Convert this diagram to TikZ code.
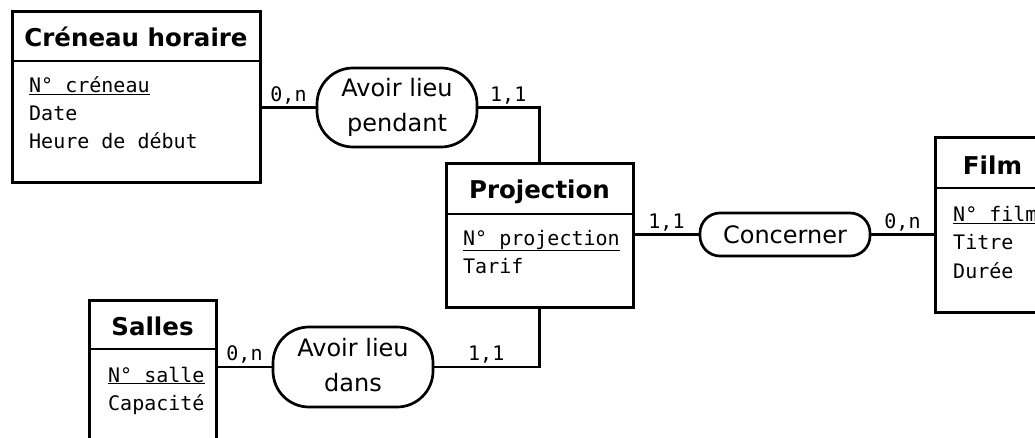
\documentclass[tikz,border=0pt]{standalone}
\usepackage{fontspec}
\setmainfont{DejaVu Sans}
\setmonofont{DejaVu Sans Mono}

\begin{document}
\begin{tikzpicture}[x=1pt,y=-1pt,
        entity/.style={draw,line width=3pt,inner sep=0pt,outer sep=0pt},
        relation/.style={draw,line width=2.7pt,rounded corners=36pt,inner sep=0pt,outer sep=0pt,align=center,font=\fontsize{24}{35}\selectfont},
        title/.style={anchor=base,inner sep=0pt,font=\fontsize{24.5}{29}\selectfont\bfseries},
        attr/.style={anchor=base west,inner sep=0pt,font=\fontsize{20}{28}\selectfont\ttfamily},
        card/.style={midway,above=2pt,inner sep=0pt,font=\fontsize{20}{24}\selectfont\ttfamily},
        link/.style={line width=2.8pt}]
        \useasboundingbox (0,0) rectangle (1035,438);
        \clip (0,0) rectangle (1035,438);

        \node[entity,minimum width=248pt,minimum height=171pt] (creneau) at (136,97.5) {};
        \draw[link] ([yshift=-49pt]creneau.north west) -- ([yshift=-49pt]creneau.north east);
        \node[title] (creneau-t) at ([yshift=-35pt]creneau.north) {Créneau horaire};
        \foreach \t [count=\i] in {{\underline{N° créneau}},Date,{Heure de début}}
        \node[attr] (creneau-a\i) at ([xshift=17pt,yshift={-81pt-(\i-1)*28pt}]creneau.north west) {\t};

        \node[entity,minimum width=187pt,minimum height=143pt] (projection) at (539.5,235.5) {};
        \draw[link] ([yshift=-50pt]projection.north west) -- ([yshift=-50pt]projection.north east);
        \node[title] (projection-t) at ([yshift=-35pt]projection.north) {Projection};
        \foreach \t [count=\i] in {{\underline{N° projection}},Tarif}
        \node[attr] (projection-a\i) at ([xshift=17pt,yshift={-81pt-(\i-1)*28pt}]projection.north west) {\t};

        \node[entity,minimum width=115pt,minimum height=174pt] (film) at (992.5,225) {};
        \draw[link] ([yshift=-50pt]film.north west) -- ([yshift=-50pt]film.north east);
        \node[title] (film-t) at ([yshift=-37pt]film.north) {Film};
        \foreach \t [count=\i] in {{\underline{N° film}},Titre,Durée}
        \node[attr] (film-a\i) at ([xshift=18pt,yshift={-84pt-(\i-1)*28pt}]film.north west) {\t};

        \node[entity,minimum width=127pt,minimum height=170pt] (salles) at (152.5,385) {};
        \draw[link] ([yshift=-49pt]salles.north west) -- ([yshift=-49pt]salles.north east);
        \node[title] (salles-t) at ([yshift=-35pt]salles.north) {Salles};
        \foreach \t [count=\i] in {{\underline{N° salle}},Capacité}
        \node[attr] (salles-a\i) at ([xshift=19pt,yshift={-82pt-(\i-1)*28pt}]salles.north west) {\t};

        \node[relation,minimum width=160pt,minimum height=79pt] (pendant) at (397,107.5) {Avoir lieu\\pendant};
        \node[relation,minimum width=170pt,minimum height=43pt,rounded corners=20pt] (concerner) at (785,234.5) {Concerner};
        \node[relation,minimum width=160pt,minimum height=80pt] (dans) at (353,367) {Avoir lieu\\dans\vphantom{p}};

        \draw[link] (pendant.west) -- node[card] (c1) {0,n} (pendant.west -| creneau.east);
        \draw[link] (pendant.east) -- node[card] (c2) {1,1} (pendant.east -| projection.north) -- (projection.north);
        \draw[link] (concerner.west -| projection.east) -- node[card] (c3) {1,1} (concerner.west);
        \draw[link] (concerner.east) -- node[card] (c4) {0,n} (concerner.east -| film.west);
        \draw[link] (projection.south) -- (projection.south |- dans.east) -- node[card] (c5) {1,1} (dans.east);
        \draw[link] (dans.west) -- node[card] (c6) {0,n} (dans.west -| salles.east);
    \end{tikzpicture}
\end{document}
